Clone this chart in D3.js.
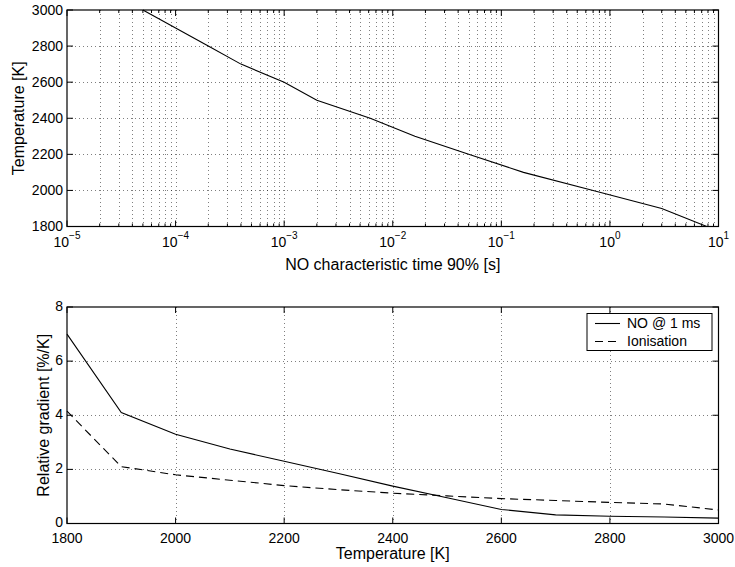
<!DOCTYPE html>
<html>
<head>
<meta charset="utf-8">
<script src="https://cdn.jsdelivr.net/npm/d3@7"></script>
<style>
  body { margin: 0; background: #fff; }
  text { font-family: "Liberation Sans", Arial, Helvetica, sans-serif; fill: #000; }
</style>
</head>
<body>
<svg id="chart" width="735" height="567"></svg>
<script>
// Upper panel: temperature reached vs. NO characteristic time (90 %)
const tempLevels = [3000, 2900, 2800, 2700, 2600, 2500, 2400, 2300, 2200, 2100, 2000, 1900, 1800];
const noTime90 = [5e-5, 1e-4, 2e-4, 4e-4, 1e-3, 2e-3, 6.2e-3, 0.016, 0.05, 0.16, 0.7, 3.0, 7.8];
const timeDecades = [1e-5, 1e-4, 1e-3, 1e-2, 1e-1, 1e0, 1e1];
const timeExponents = ["−5", "−4", "−3", "−2", "−1", "0", "1"];
const tempTicksTop = [1800, 2000, 2200, 2400, 2600, 2800, 3000];

// Lower panel: relative gradient vs. temperature
const gradTemps = [1800, 1900, 2000, 2100, 2200, 2300, 2400, 2500, 2600, 2700, 2800, 2900, 3000];
const noGrad1ms = [7.0, 4.1, 3.3, 2.75, 2.3, 1.85, 1.38, 0.95, 0.52, 0.32, 0.27, 0.24, 0.2];
const ionGrad = [4.15, 2.1, 1.8, 1.6, 1.4, 1.25, 1.12, 1.02, 0.92, 0.85, 0.78, 0.72, 0.5];
const gradTicks = [0, 2, 4, 6, 8];
const tempTicksBottom = [1800, 2000, 2200, 2400, 2600, 2800, 3000];
const seriesNames = ["NO @ 1 ms", "Ionisation"];

const svg = d3.select("#chart");
const TICK_FONT = 14;
const LABEL_FONT = 16;

const L = 67, R = 718.5;
const top1 = 10, bot1 = 226.5;
const top2 = 307, bot2 = 523.5;

const dotted = sel => sel.attr("stroke", "#000").attr("stroke-opacity", 0.5)
  .attr("stroke-width", 1).attr("stroke-dasharray", "1,3").attr("fill", "none");

// ---------- upper panel ----------
const x1 = d3.scaleLog().domain([1e-5, 10]).range([L, R]);
const y1 = d3.scaleLinear().domain([1800, 3000]).range([bot1, top1]);

const minorTimes = [];
timeDecades.slice(0, -1).forEach(d => { for (let k = 2; k <= 9; k++) minorTimes.push(d * k); });
const allTimes = timeDecades.concat(minorTimes);

const g1 = svg.append("g");
// grid
g1.selectAll(".vgrid").data(allTimes.filter(t => t > 1e-5 && t < 10)).join("line")
  .attr("x1", d => Math.round(x1(d)) + 0.5).attr("x2", d => Math.round(x1(d)) + 0.5)
  .attr("y1", top1).attr("y2", bot1).call(dotted);
g1.selectAll(".hgrid").data(tempTicksTop.filter(t => t > 1800 && t < 3000)).join("line")
  .attr("x1", L).attr("x2", R)
  .attr("y1", d => Math.round(y1(d)) + 0.5).attr("y2", d => Math.round(y1(d)) + 0.5).call(dotted);

// ticks (inward on all sides)
const tickLen = d => timeDecades.includes(d) ? 6 : 3;
g1.selectAll(".xtb").data(allTimes).join("line")
  .attr("x1", d => x1(d)).attr("x2", d => x1(d))
  .attr("y1", bot1).attr("y2", d => bot1 - tickLen(d)).attr("stroke", "#000");
g1.selectAll(".xtt").data(allTimes).join("line")
  .attr("x1", d => x1(d)).attr("x2", d => x1(d))
  .attr("y1", top1).attr("y2", d => top1 + tickLen(d)).attr("stroke", "#000");
g1.selectAll(".ytl").data(tempTicksTop).join("line")
  .attr("x1", L).attr("x2", L + 6).attr("y1", d => y1(d)).attr("y2", d => y1(d)).attr("stroke", "#000");
g1.selectAll(".ytr").data(tempTicksTop).join("line")
  .attr("x1", R).attr("x2", R - 6).attr("y1", d => y1(d)).attr("y2", d => y1(d)).attr("stroke", "#000");

// tick labels (powers of ten with superscript exponents)
const xl = g1.selectAll(".xl").data(timeDecades).join("text")
  .attr("x", d => x1(d)).attr("y", bot1 + 20.5)
  .attr("text-anchor", "middle").attr("font-size", TICK_FONT);
xl.append("tspan").text("10");
xl.append("tspan").attr("dy", -8).attr("font-size", 10).text((d, i) => timeExponents[i]);

g1.selectAll(".yl").data(tempTicksTop).join("text")
  .attr("x", L - 4).attr("y", d => y1(d)).attr("dy", "0.35em")
  .attr("text-anchor", "end").attr("font-size", TICK_FONT).text(d => d);

// curve
g1.append("path").datum(tempLevels.map((t, i) => [noTime90[i], t]))
  .attr("fill", "none").attr("stroke", "#000").attr("stroke-width", 1.1)
  .attr("d", d3.line().x(d => x1(d[0])).y(d => y1(d[1])));

// frame
g1.append("rect").attr("x", L).attr("y", top1).attr("width", R - L).attr("height", bot1 - top1)
  .attr("fill", "none").attr("stroke", "#000").attr("stroke-width", 1.2);

g1.append("text").attr("x", (L + R) / 2).attr("y", 270).attr("text-anchor", "middle")
  .attr("font-size", LABEL_FONT).text("NO characteristic time 90% [s]");
g1.append("text").attr("transform", `translate(24,${(top1 + bot1) / 2}) rotate(-90)`)
  .attr("text-anchor", "middle").attr("font-size", LABEL_FONT).text("Temperature [K]");

// ---------- lower panel ----------
const x2 = d3.scaleLinear().domain([1800, 3000]).range([L, R]);
const y2 = d3.scaleLinear().domain([0, 8]).range([bot2, top2]);
const g2 = svg.append("g");

g2.selectAll(".vgrid").data(tempTicksBottom.filter(t => t > 1800 && t < 3000)).join("line")
  .attr("x1", d => Math.round(x2(d)) + 0.5).attr("x2", d => Math.round(x2(d)) + 0.5)
  .attr("y1", top2).attr("y2", bot2).call(dotted);
g2.selectAll(".hgrid").data(gradTicks.filter(t => t > 0 && t < 8)).join("line")
  .attr("x1", L).attr("x2", R)
  .attr("y1", d => Math.round(y2(d)) + 0.5).attr("y2", d => Math.round(y2(d)) + 0.5).call(dotted);

g2.selectAll(".xtb").data(tempTicksBottom).join("line")
  .attr("x1", d => x2(d)).attr("x2", d => x2(d)).attr("y1", bot2).attr("y2", bot2 - 6).attr("stroke", "#000");
g2.selectAll(".xtt").data(tempTicksBottom).join("line")
  .attr("x1", d => x2(d)).attr("x2", d => x2(d)).attr("y1", top2).attr("y2", top2 + 6).attr("stroke", "#000");
g2.selectAll(".ytl").data(gradTicks).join("line")
  .attr("x1", L).attr("x2", L + 6).attr("y1", d => y2(d)).attr("y2", d => y2(d)).attr("stroke", "#000");
g2.selectAll(".ytr").data(gradTicks).join("line")
  .attr("x1", R).attr("x2", R - 6).attr("y1", d => y2(d)).attr("y2", d => y2(d)).attr("stroke", "#000");

g2.selectAll(".xl").data(tempTicksBottom).join("text")
  .attr("x", d => x2(d)).attr("y", bot2 + 14.5).attr("dy", "0.35em")
  .attr("text-anchor", "middle").attr("font-size", TICK_FONT).text(d => d);
g2.selectAll(".yl").data(gradTicks).join("text")
  .attr("x", L - 4).attr("y", d => y2(d) - 1).attr("dy", "0.35em")
  .attr("text-anchor", "end").attr("font-size", TICK_FONT).text(d => d);

const line2 = d3.line().x(d => x2(d[0])).y(d => y2(d[1]));
g2.append("path").datum(gradTemps.map((t, i) => [t, noGrad1ms[i]]))
  .attr("fill", "none").attr("stroke", "#000").attr("stroke-width", 1.1).attr("d", line2);
g2.append("path").datum(gradTemps.map((t, i) => [t, ionGrad[i]]))
  .attr("fill", "none").attr("stroke", "#000").attr("stroke-width", 1.1)
  .attr("stroke-dasharray", "8,5").attr("d", line2);

g2.append("rect").attr("x", L).attr("y", top2).attr("width", R - L).attr("height", bot2 - top2)
  .attr("fill", "none").attr("stroke", "#000").attr("stroke-width", 1.2);

g2.append("text").attr("x", (L + R) / 2).attr("y", 559).attr("text-anchor", "middle")
  .attr("font-size", LABEL_FONT).text("Temperature [K]");
g2.append("text").attr("transform", `translate(49,${(top2 + bot2) / 2}) rotate(-90)`)
  .attr("text-anchor", "middle").attr("font-size", LABEL_FONT).text("Relative gradient [%/K]");

// legend
const lg = g2.append("g").attr("transform", "translate(587,313.5)");
lg.append("rect").attr("width", 125).attr("height", 37)
  .attr("fill", "#fff").attr("stroke", "#000").attr("stroke-width", 1);
const dashes = [null, "8,5"];
seriesNames.forEach((name, i) => {
  const yy = 10 + i * 18;
  lg.append("line").attr("x1", 8).attr("x2", 33).attr("y1", yy).attr("y2", yy)
    .attr("stroke", "#000").attr("stroke-width", 1.1).attr("stroke-dasharray", dashes[i]);
  lg.append("text").attr("x", 40).attr("y", yy).attr("dy", "0.35em")
    .attr("font-size", TICK_FONT).text(name);
});
</script>
</body>
</html>
